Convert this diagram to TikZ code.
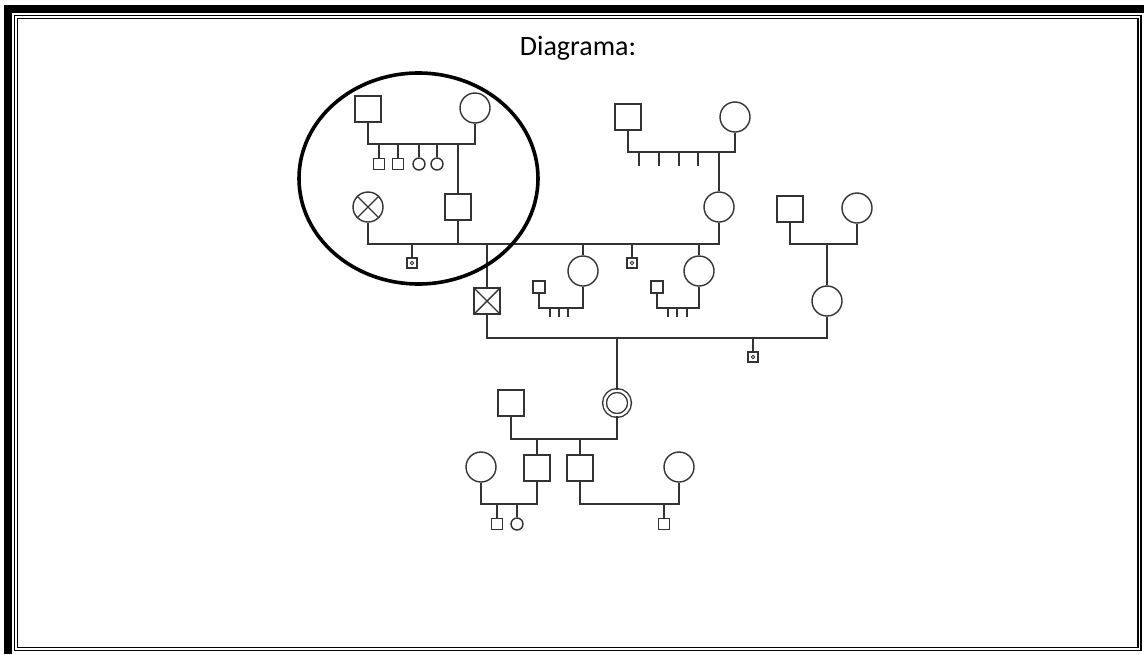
\documentclass[tikz,border=0pt]{standalone}
\usepackage{fontspec}
\setmainfont{Carlito}
\usepackage{tikz}

\begin{document}
\begin{tikzpicture}[x=1pt,y=-1pt,line width=1.4pt,black!80]
    \tikzstyle{every node}=[draw=black!80,inner sep=0pt];
    \tikzstyle{male}=[shape=rectangle,minimum size=26pt];
    \tikzstyle{female}=[shape=circle,minimum size=30pt];
    \tikzstyle{smale}=[shape=rectangle,minimum size=11pt];
    \tikzstyle{sfemale}=[shape=circle,minimum size=12pt];
    \tikzstyle{carrier}=[shape=rectangle,minimum size=10pt,line width=1.9pt];
    \useasboundingbox (0, 0) rectangle (1144, 654);

    % page border
    \fill[black] (4, 5) rectangle (1144, 13);
    \fill[black] (4, 5) rectangle (12, 654);
    \draw[black,line width=1.5pt] (14.5, 15.5) rectangle (1141, 650.5);
    \draw[black,line width=1.5pt] (17.5, 18.5) rectangle (1138, 647.5);

    \node[draw=none,black,font=\fontsize{28}{30}\selectfont,anchor=base] at (578, 55) (title) {Diagrama:};

    \node[male] at (368, 109)   (m1) {};
    \node[female] at (475, 108) (f1) {};
    \node[smale] at (379, 164)  (u1) {};
    \node[smale] at (398, 164)  (u2) {};
    \node[sfemale] at (419, 164) (u3) {};
    \node[sfemale] at (437, 164) (u4) {};
    \node[female] at (368, 207) (f2) {};
    \node[male] at (458, 207)   (m2) {};
    \node[carrier] at (412, 263) (u5) {};
    \node[male] at (487, 301)   (m3) {};
    \node[female] at (583, 271) (f4) {};
    \node[carrier] at (632, 263) (u6) {};
    \node[female] at (699, 271) (f5) {};
    \node[male] at (628, 117)   (m4) {};
    \node[female] at (735, 117) (f6) {};
    \node[female] at (719, 207) (f3) {};
    \node[smale,minimum size=12pt] at (539, 287) (u7) {};
    \node[smale,minimum size=12pt] at (657, 287) (u8) {};
    \node[male] at (790, 209)   (m5) {};
    \node[female] at (857, 208) (f7) {};
    \node[female] at (827, 301) (f8) {};
    \node[carrier] at (753, 357) (u9) {};
    \node[female,double,double distance=2.4pt,minimum size=25pt] at (617, 403) (f9) {};
    \node[male] at (511, 403)   (m6) {};
    \node[male] at (537, 468)   (m7) {};
    \node[male] at (580, 468)   (m8) {};
    \node[female] at (481, 467) (f10) {};
    \node[female] at (679, 467) (f11) {};
    \node[smale] at (497, 524)  (u10) {};
    \node[sfemale] at (517, 524) (u11) {};
    \node[smale] at (664, 524)  (u12) {};

    \coordinate (j1) at (420, 144);
    \coordinate (j2) at (412, 244);
    \coordinate (j3) at (680, 152);
    \coordinate (j4) at (560, 308);
    \coordinate (j5) at (678, 308);
    \coordinate (j6) at (827, 244);
    \coordinate (j7) at (617, 338);
    \coordinate (j8) at (558, 439);
    \coordinate (j9) at (509, 504);
    \coordinate (j10) at (629, 504);

    % crosses and dots
    \draw (f2.north west) to (f2.south east) (f2.north east) to (f2.south west);
    \draw (m3.north west) to (m3.south east) (m3.north east) to (m3.south west);
    \draw[line width=0.9pt] (u5) circle (1.8pt);
    \draw[line width=0.9pt] (u6) circle (1.8pt);
    \draw[line width=0.9pt] (u9) circle (1.8pt);

    \draw (m1) |- (j1) -| (f1);
    \draw (u1) to (u1 |- j1);
    \draw (u2) to (u2 |- j1);
    \draw (u3) to (u3 |- j1);
    \draw (u4) to (u4 |- j1);
    \draw (m2) to (m2 |- j1);

    \draw (f2) |- (j2) -| (f3);
    \draw (m2) to (m2 |- j2);
    \draw (u5) to (u5 |- j2);
    \draw (m3) to (m3 |- j2);
    \draw (f4) to (f4 |- j2);
    \draw (u6) to (u6 |- j2);
    \draw (f5) to (f5 |- j2);

    \draw (m4) |- (j3) -| (f6);
    \draw (f3) to (f3 |- j3);
    \foreach \x in {639,659,679,698} \draw (\x, 152) to (\x, 166);

    \draw (u7) |- (j4) -| (f4);
    \foreach \x in {550,559,568} \draw (\x, 308) to (\x, 317);
    \draw (u8) |- (j5) -| (f5);
    \foreach \x in {668,677,687} \draw (\x, 308) to (\x, 317);

    \draw (m5) |- (j6) -| (f7);
    \draw (f8) to (j6);

    \draw (m3) |- (j7) -| (f8);
    \draw (f9) to (j7);
    \draw (u9) to (u9 |- j7);

    \draw (m6) |- (j8) -| (f9);
    \draw (m7) to (m7 |- j8);
    \draw (m8) to (m8 |- j8);
    \draw (f10) |- (j9) -| (m7);
    \draw (u10) to (u10 |- j9);
    \draw (u11) to (u11 |- j9);
    \draw (m8) |- (j10) -| (f11);
    \draw (u12) to (u12 |- j10);

    \draw[black,line width=3.6pt] (418.5, 178.5) ellipse [x radius=119.5pt, y radius=105.5pt];
\end{tikzpicture}
\end{document}
